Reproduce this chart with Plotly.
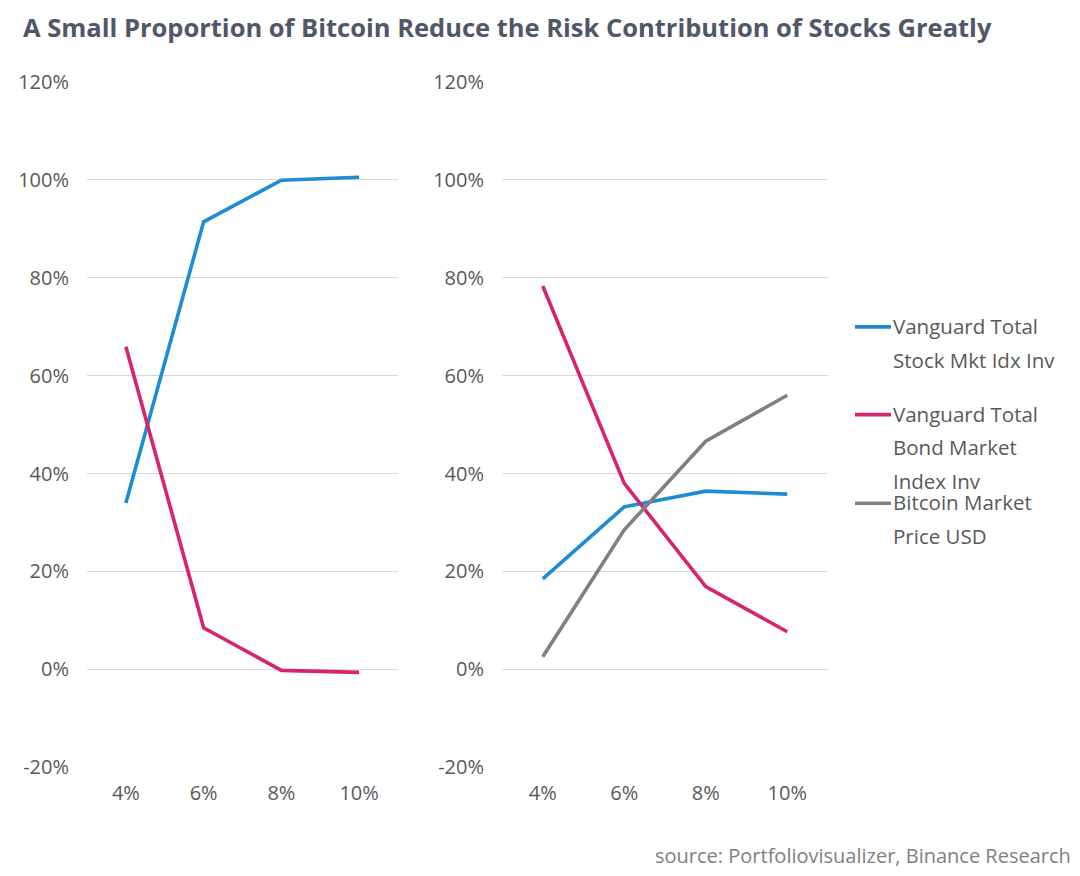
import plotly.graph_objects as go

# ---------------- data ----------------
categories = ["4%", "6%", "8%", "10%"]
left_stock = [0.340, 0.914, 0.999, 1.005]
left_bond = [0.659, 0.085, -0.002, -0.006]
right_stock = [0.185, 0.332, 0.364, 0.358]
right_bond = [0.783, 0.380, 0.169, 0.077]
right_btc = [0.026, 0.285, 0.466, 0.560]
y_ticks = [-0.2, 0.0, 0.2, 0.4, 0.6, 0.8, 1.0, 1.2]
y_tick_labels = ["-20%", "0%", "20%", "40%", "60%", "80%", "100%", "120%"]

series_names = ["Vanguard Total Stock Mkt Idx Inv",
                "Vanguard Total Bond Market Index Inv",
                "Bitcoin Market Price USD"]
legend_lines = [["Vanguard Total", "Stock Mkt Idx Inv"],
                ["Vanguard Total", "Bond Market", "Index Inv"],
                ["Bitcoin Market", "Price USD"]]
title_text = "A Small Proportion of Bitcoin Reduce the Risk Contribution of Stocks Greatly"
source_text = "source: Portfoliovisualizer, Binance Research"

# ---------------- style ----------------
W, H = 1080, 876
BLUE, PINK, GRAY = "#1d8cd4", "#d6246e", "#808080"
colors = [BLUE, PINK, GRAY]
GRID = "#d9d9d9"
TXT = "#595959"
FONT = "Open Sans"

# map target screen pixels to paper fractions (compensating page offset)
OX, OY, PH = 8.0, 20.0, 852.0

def px_x(p):
    return (p - OX) / W

def px_y(p):
    return 1 - (p - OY) / PH

y_top, y_bot = 80, 768
left_dom = [px_x(87), px_x(398)]
right_dom = [px_x(502), px_x(828)]
y_dom = [px_y(y_bot), px_y(y_top)]
y_range = [-0.2, 1.2]
zero_pos = y_dom[0] + (0 - y_range[0]) / (y_range[1] - y_range[0]) * (y_dom[1] - y_dom[0])

fig = go.Figure()
lw = 3.6
fig.add_trace(go.Scatter(x=categories, y=left_stock, mode="lines", name=series_names[0],
                         line=dict(color=BLUE, width=lw), xaxis="x", yaxis="y", showlegend=False))
fig.add_trace(go.Scatter(x=categories, y=left_bond, mode="lines", name=series_names[1],
                         line=dict(color=PINK, width=lw), xaxis="x", yaxis="y", showlegend=False))
fig.add_trace(go.Scatter(x=categories, y=right_stock, mode="lines", name=series_names[0],
                         line=dict(color=BLUE, width=lw), xaxis="x2", yaxis="y2", showlegend=False))
fig.add_trace(go.Scatter(x=categories, y=right_bond, mode="lines", name=series_names[1],
                         line=dict(color=PINK, width=lw), xaxis="x2", yaxis="y2", showlegend=False))
fig.add_trace(go.Scatter(x=categories, y=right_btc, mode="lines", name=series_names[2],
                         line=dict(color=GRAY, width=lw), xaxis="x2", yaxis="y2", showlegend=False))

tickfont = dict(family=FONT, size=20, color=TXT)

def xaxis(dom, anchor):
    return dict(domain=dom, anchor=anchor, type="category", categoryorder="array",
                categoryarray=categories, range=[-0.5, len(categories) - 0.5],
                showgrid=False, zeroline=False, showline=False, ticks="",
                tickfont=tickfont, ticklabelstandoff=12, fixedrange=True)

def yaxis(dom, anchor):
    return dict(domain=dom, anchor=anchor, range=y_range, tickvals=y_ticks,
                ticktext=y_tick_labels, showgrid=True, gridcolor=GRID, gridwidth=1,
                zeroline=False, showline=False, ticks="", tickfont=tickfont,
                ticklabelstandoff=17, fixedrange=True)

def zero_axis(dom, overlay):
    n = len(categories)
    return dict(domain=dom, overlaying=overlay, anchor="free", position=zero_pos,
                type="linear", range=[-0.5, n - 0.5],
                tickvals=[i - 0.5 for i in range(n + 1)], showticklabels=False,
                ticks="outside", ticklen=6, tickcolor=GRID, tickwidth=1.5,
                showline=True, linecolor=GRID, linewidth=1.5, showgrid=False,
                zeroline=False, fixedrange=True)

fig.update_layout(
    width=W, height=H, autosize=False,
    margin=dict(l=0, r=0, t=0, b=0),
    paper_bgcolor="white", plot_bgcolor="white",
    showlegend=False,
    xaxis=xaxis(left_dom, "y"),
    yaxis=yaxis(y_dom, "x"),
    xaxis2=xaxis(right_dom, "y2"),
    yaxis2=yaxis(y_dom, "x2"),
    xaxis3=zero_axis(left_dom, "x"),
    xaxis4=zero_axis(right_dom, "x2"),
)

annotations = [
    dict(text="<b>" + title_text + "</b>", x=px_x(21), y=px_y(25), xref="paper", yref="paper",
         xanchor="left", yanchor="middle", showarrow=False,
         font=dict(family=FONT, size=25.5, color="#4f5769")),
    dict(text=source_text, x=px_x(1073), y=px_y(856), xref="paper", yref="paper",
         xanchor="right", yanchor="middle", showarrow=False,
         font=dict(family=FONT, size=20, color="#808080")),
]

shapes = []
first_line_y = [325, 413, 502]
line_gap = 34
for i, lines in enumerate(legend_lines):
    y0 = first_line_y[i]
    shapes.append(dict(type="line", xref="paper", yref="paper",
                       x0=px_x(855), x1=px_x(891), y0=px_y(y0 + 1), y1=px_y(y0 + 1),
                       line=dict(color=colors[i], width=lw)))
    for j, t in enumerate(lines):
        annotations.append(dict(text=t, x=px_x(891), y=px_y(y0 + j * line_gap),
                                xref="paper", yref="paper", xanchor="left", yanchor="middle",
                                showarrow=False, font=dict(family=FONT, size=20.5, color=TXT)))

fig.update_layout(annotations=annotations, shapes=shapes)

fig.write_html("out.html")
